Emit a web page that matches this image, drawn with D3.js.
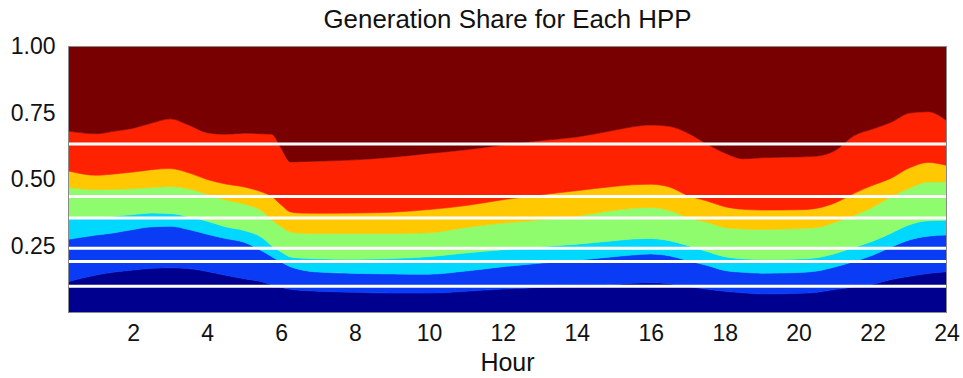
<!DOCTYPE html>
<html>
<head>
<meta charset="utf-8">
<script src="https://cdn.jsdelivr.net/npm/d3@7/dist/d3.min.js"></script>
<style>
  html, body { margin: 0; padding: 0; background: #fff; }
  svg { display: block; }
  text { font-family: "Liberation Sans", Arial, Helvetica, sans-serif; fill: #111; }
</style>
</head>
<body>
<svg id="chart" width="963" height="378"></svg>
<script>
// Hour of day (15-min resolution start at 0.25)
const hours = [0.25, 1, 1.5, 2, 2.5, 3, 3.5, 4, 4.5, 5, 5.5, 5.75, 6, 6.25, 6.5, 7, 8, 9, 10, 11,
  12, 13, 14, 15, 15.5, 16, 16.5, 17, 17.5, 18, 18.5, 19, 20, 20.5, 21, 21.5, 22, 22.5, 23, 23.5, 24];

// Generation share of each hydro power plant (bottom to top of the stack)
const hpp1 = [0.116, 0.141, 0.152, 0.160, 0.166, 0.168, 0.165, 0.154, 0.140, 0.127, 0.115, 0.104, 0.095, 0.087, 0.084, 0.080, 0.076, 0.073, 0.073, 0.080,
  0.088, 0.094, 0.099, 0.105, 0.110, 0.112, 0.108, 0.098, 0.088, 0.080, 0.074, 0.070, 0.072, 0.076, 0.087, 0.096, 0.106, 0.124, 0.136, 0.147, 0.153];
const hpp2 = [0.159, 0.150, 0.148, 0.152, 0.156, 0.156, 0.147, 0.140, 0.138, 0.137, 0.115, 0.106, 0.095, 0.085, 0.078, 0.072, 0.071, 0.072, 0.071, 0.076,
  0.084, 0.091, 0.097, 0.105, 0.106, 0.108, 0.105, 0.097, 0.090, 0.078, 0.077, 0.078, 0.078, 0.080, 0.085, 0.096, 0.109, 0.122, 0.137, 0.140, 0.138];
const hpp3 = [0.080, 0.067, 0.062, 0.056, 0.052, 0.048, 0.048, 0.049, 0.044, 0.044, 0.050, 0.040, 0.038, 0.037, 0.043, 0.050, 0.053, 0.058, 0.066, 0.068,
  0.064, 0.062, 0.061, 0.060, 0.060, 0.058, 0.057, 0.057, 0.052, 0.052, 0.051, 0.051, 0.051, 0.050, 0.050, 0.053, 0.053, 0.052, 0.057, 0.058, 0.056];
const hpp4 = [0.115, 0.104, 0.101, 0.098, 0.096, 0.102, 0.105, 0.102, 0.101, 0.100, 0.100, 0.098, 0.095, 0.094, 0.094, 0.095, 0.097, 0.094, 0.090, 0.096,
  0.100, 0.101, 0.105, 0.114, 0.116, 0.117, 0.114, 0.105, 0.110, 0.110, 0.112, 0.113, 0.115, 0.114, 0.118, 0.120, 0.128, 0.137, 0.138, 0.146, 0.144];
const hpp5 = [0.062, 0.054, 0.058, 0.062, 0.067, 0.067, 0.060, 0.055, 0.060, 0.064, 0.072, 0.088, 0.082, 0.075, 0.075, 0.076, 0.077, 0.080, 0.087, 0.082,
  0.088, 0.094, 0.096, 0.090, 0.088, 0.087, 0.088, 0.083, 0.080, 0.078, 0.074, 0.073, 0.070, 0.072, 0.073, 0.083, 0.082, 0.070, 0.076, 0.073, 0.062];
const hpp6 = [0.150, 0.156, 0.161, 0.165, 0.175, 0.187, 0.180, 0.176, 0.187, 0.202, 0.220, 0.234, 0.213, 0.188, 0.193, 0.196, 0.200, 0.207, 0.211, 0.210,
  0.206, 0.204, 0.202, 0.211, 0.218, 0.223, 0.228, 0.235, 0.215, 0.202, 0.190, 0.197, 0.199, 0.196, 0.197, 0.217, 0.212, 0.210, 0.206, 0.191, 0.169];
const hpp7 = [0.318, 0.328, 0.318, 0.307, 0.288, 0.272, 0.295, 0.324, 0.330, 0.326, 0.328, 0.330, 0.382, 0.434, 0.433, 0.431, 0.426, 0.416, 0.402, 0.388,
  0.370, 0.354, 0.340, 0.315, 0.302, 0.295, 0.300, 0.325, 0.365, 0.400, 0.422, 0.418, 0.415, 0.412, 0.390, 0.335, 0.310, 0.285, 0.250, 0.245, 0.278];

const seriesNames = ["HPP1", "HPP2", "HPP3", "HPP4", "HPP5", "HPP6", "HPP7"];
const seriesValues = [hpp1, hpp2, hpp3, hpp4, hpp5, hpp6, hpp7];
const seriesColors = ["#00008f", "#0a3cf5", "#00d8ff", "#8efc6c", "#ffc800", "#ff2200", "#780000"];

// Reference share levels drawn as white horizontal lines
const levels = [0.0985, 0.192, 0.242, 0.355, 0.436, 0.633];

const xTicks = [2, 4, 6, 8, 10, 12, 14, 16, 18, 20, 22, 24];
const yTicks = [0.25, 0.5, 0.75, 1.0];

const svg = d3.select("#chart");
const plotBox = { left: 68.5, right: 946.5, top: 46.5, bottom: 312.5 };

const x = d3.scaleLinear().domain([0.25, 24]).range([plotBox.left, plotBox.right]);
const y = d3.scaleLinear().domain([0, 1]).range([plotBox.bottom, plotBox.top]);

// Build rows for the stack
const rows = hours.map((h, i) => {
  const r = { hour: h };
  seriesNames.forEach((n, k) => { r[n] = seriesValues[k][i]; });
  return r;
});
const stacked = d3.stack().keys(seriesNames)(rows);

svg.append("defs").append("clipPath").attr("id", "plotclip")
  .append("rect").attr("x", plotBox.left).attr("y", plotBox.top)
  .attr("width", plotBox.right - plotBox.left).attr("height", plotBox.bottom - plotBox.top);

const area = d3.area()
  .x(d => x(d.data.hour))
  .y0(d => y(d[0]))
  .y1(d => y(d[1]))
  .curve(d3.curveMonotoneX);

const plot = svg.append("g").attr("clip-path", "url(#plotclip)");

plot.selectAll("path.layer")
  .data(stacked)
  .join("path")
  .attr("class", "layer")
  .attr("fill", (d, i) => seriesColors[i])
  .attr("stroke", (d, i) => seriesColors[i])
  .attr("stroke-width", 0.6)
  .attr("d", area);

plot.selectAll("line.level")
  .data(levels)
  .join("line")
  .attr("class", "level")
  .attr("x1", plotBox.left).attr("x2", plotBox.right)
  .attr("y1", d => y(d)).attr("y2", d => y(d))
  .attr("stroke", "#ffffff")
  .attr("stroke-width", 3);

// Plot frame
svg.append("rect")
  .attr("x", plotBox.left).attr("y", plotBox.top)
  .attr("width", plotBox.right - plotBox.left).attr("height", plotBox.bottom - plotBox.top)
  .attr("fill", "none").attr("stroke", "#8a8a8a").attr("stroke-width", 1);

// Axes (labels only, no tick marks)
const xAxis = d3.axisBottom(x).tickValues(xTicks).tickSize(0).tickPadding(12).tickFormat(d3.format("d"));
const gx = svg.append("g").attr("transform", `translate(0,${plotBox.bottom})`).call(xAxis);
gx.select(".domain").remove();
gx.selectAll("text").attr("font-size", 23).attr("font-family", "Liberation Sans, Arial, sans-serif").attr("fill", "#111");

const yAxis = d3.axisLeft(y).tickValues(yTicks).tickSize(0).tickPadding(13).tickFormat(d3.format(".2f"));
const gy = svg.append("g").attr("transform", `translate(${plotBox.left},0)`).call(yAxis);
gy.select(".domain").remove();
gy.selectAll("text").attr("font-size", 23).attr("font-family", "Liberation Sans, Arial, sans-serif").attr("fill", "#111");

svg.append("text")
  .attr("x", (plotBox.left + plotBox.right) / 2).attr("y", 371)
  .attr("text-anchor", "middle")
  .attr("font-size", 25)
  .text("Hour");

svg.append("text")
  .attr("x", (plotBox.left + plotBox.right) / 2).attr("y", 28)
  .attr("text-anchor", "middle")
  .attr("font-size", 25)
  .attr("textLength", 368)
  .attr("lengthAdjust", "spacingAndGlyphs")
  .text("Generation Share for Each HPP");
</script>
</body>
</html>
